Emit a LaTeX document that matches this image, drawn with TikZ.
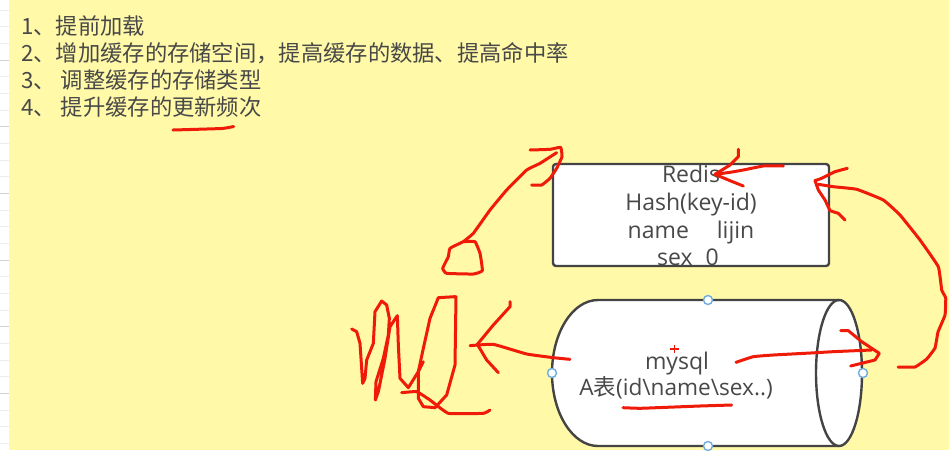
\documentclass[tikz,border=0pt]{standalone}
\usepackage{fontspec}
\setmainfont{Open Sans}
\newfontfamily\cjk{Noto Sans CJK SC}
\definecolor{note}{HTML}{FFF9A8}
\definecolor{ink}{HTML}{444444}
\definecolor{txt}{HTML}{484848}
\definecolor{pen}{HTML}{F01A08}
\definecolor{handle}{HTML}{6FAEDD}
\tikzset{
  pen/.style={draw=pen,line width=3pt,line cap=round,line join=round},
  shape edge/.style={draw=ink,line width=2.4pt},
  label/.style={text=txt,font=\fontsize{23}{26}\selectfont,inner sep=0pt,anchor=base},
  listline/.style={text=txt,font=\fontsize{22.3}{26}\selectfont\cjk,inner sep=0pt,anchor=base west},
  handlept/.style={circle,draw=handle,fill=white,line width=1.4pt,minimum size=9pt,inner sep=0pt},
}
\newcommand{\ink}[1]{\draw[pen] plot[smooth,tension=0.2] coordinates {#1};}
\begin{document}
\begin{tikzpicture}[x=1pt,y=-1pt]
\useasboundingbox (0,0) rectangle (949,450);
\fill[white] (0,0) rectangle (949,450);
\foreach \i in {0,...,26} {
  \pgfmathsetmacro{\yy}{10+16.667*\i}
  \pgfmathtruncatemacro{\rr}{mod(\i,4)}
  \ifnum\rr=3 \draw[black!18,line width=1pt] (0,\yy) -- (9,\yy);
  \else \draw[black!7,line width=1pt] (0,\yy) -- (9,\yy); \fi
}
\fill[note] (9,0) rectangle (949,450);
% list
\node[listline] (l1) at (21,34.5) {1、提前加载};
\node[listline] (l2) at (21,61) {2、增加缓存的存储空间，提高缓存的数据、提高命中率};
\node[listline] (l3) at (21,88.5) {3、 调整缓存的存储类型};
\node[listline] (l4) at (21,115.5) {4、 提升缓存的更新频次};
% redis box
\node[shape edge,fill=white,rounded corners=3pt,minimum width=276pt,minimum height=102pt,inner sep=0pt] (redis) at (691,215) {};
\node[label] (r1) at (691,182) {Redis};
\node[label] (r2) at (691,210) {Hash(key-id)};
\node[label] (r3) at (691,238) {name\hspace{28pt}lijin};
\node[label] (r4) at (688,265) {sex\hspace{13pt}0};
% cylinder
\path[shape edge,fill=white] (598,300) -- (839,300) .. controls (851.7,300) and (862,332.7) .. (862,373) .. controls (862,413.3) and (851.7,446) .. (839,446) -- (598,446) .. controls (572.6,446) and (552,413.3) .. (552,373) .. controls (552,332.7) and (572.6,300) .. (598,300) -- cycle;
\draw[shape edge] (839,300) .. controls (826.3,300) and (816,332.7) .. (816,373) .. controls (816,413.3) and (826.3,446) .. (839,446);
\node[label] (m1) at (677,369) {mysql};
\node[label,font=\fontsize{22.6}{26}\selectfont] (m2) at (676,395) {A{\cjk 表}(id\textbackslash name\textbackslash sex..)};
\node[handlept] (h1) at (708,300) {};
\node[handlept] (h2) at (552,373) {};
\node[handlept] (h3) at (863,373) {};
\node[handlept] (h4) at (708,446) {};
\draw[pen,line width=1.2pt,line cap=butt] (670,349) -- (679,349) (674.5,345) -- (674.5,353);
% ink
\ink{(173,130)(222,128.5)(233.7,126.5)}
\begin{scope}[shift={(430,140)},scale=1/3]
\ink{(100,305)(130,280)(180,210)(230,150)(290,90)(330,70)(380,38)}
\ink{(300,30)(360,28)(392,22)(396,50)(380,85)(360,115)(335,135)(305,135)}
\ink{(100,305)(60,325)(55,350)(38,385)(50,400)(130,402)(157,392)(150,340)(135,305)(100,305)}
\ink{(1060,78)(1000,78)(940,90)(900,97)(855,103)}
\draw[pen] (925,28) -- (925,50) -- (900,75) -- (855,103) -- (900,122) -- (940,138);
\draw[pen] (1252,85) -- (1215,95) -- (1175,115) -- (1155,122) -- (1165,150) -- (1185,180) -- (1200,212) -- (1225,220) -- (1245,240);
\end{scope}
\ink{(818.3,184.3)(833.3,186.7)(856.7,189.3)(883.3,200)(900,215)(920,240)(938.3,266.7)(941.7,290)(945.7,298)(945,315)(938,332)(935,348)(926.7,359)(915,367)(898,367)}
\begin{scope}[shift={(340,285)},scale=1/3]
\draw[pen] (35,132) -- (50,140) -- (60,175) -- (68,295) -- (75,280) -- (80,225) -- (100,175) -- (105,80) -- (125,48) -- (140,60) -- (148,100) -- (145,150) -- (130,220) -- (108,290) -- (106,345) -- (115,320) -- (135,220) -- (150,125) -- (172,92) -- (175,180) -- (180,280) -- (205,308) -- (235,260) -- (250,230);
\draw[pen] (345,35) -- (295,38) -- (270,100) -- (250,190) -- (235,260) -- (235,340) -- (250,365) -- (285,368) -- (320,330) -- (345,240) -- (348,35);
\ink{(185,323)(230,320)(270,345)(325,385)(430,385)(450,375)}
\ink{(390,182)(460,178)(560,207)(640,218)(690,223)}
\draw[pen] (510,50) -- (510,65) -- (460,120) -- (412,178) -- (440,225) -- (475,263);
\end{scope}
\begin{scope}[shift={(640,285)},scale=1/3]
\ink{(288,232)(340,215)(400,210)(530,203)(580,200)(695,195)}
\draw[pen] (602,137) -- (625,137) -- (665,170) -- (718,205) -- (705,225) -- (632,243);
\end{scope}
\ink{(623,407.7)(640,408.3)(666.7,407.3)(700,406)(731.7,405)}
\end{tikzpicture}
\end{document}
